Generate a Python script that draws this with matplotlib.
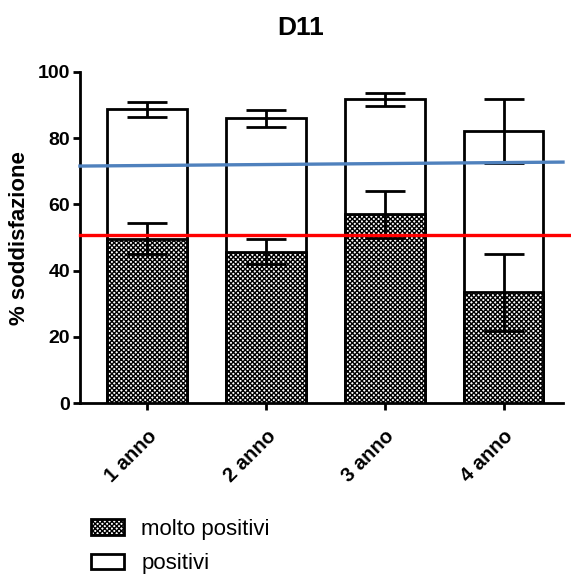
import matplotlib
matplotlib.use('Agg')
import matplotlib.pyplot as plt
import numpy as np

plt.rcParams['font.family'] = ['Liberation Sans', 'DejaVu Sans']
plt.rcParams['hatch.linewidth'] = 1.0

# dati
anni = ['1 anno', '2 anno', '3 anno', '4 anno']
positivi = [88.7, 86.0, 91.8, 82.2]
positivi_err = [2.3, 2.5, 2.0, 9.6]
molto_positivi = [49.7, 45.7, 57.0, 33.5]
molto_positivi_err = [4.7, 3.8, 7.2, 11.6]
linea_blu = [71.6, 72.8]   # valori agli estremi dell'asse
linea_rossa = 50.8

fig = plt.figure(figsize=(5.71, 5.76), dpi=100)
ax = fig.add_axes([0.140, 0.300, 0.846, 0.575])

x = np.arange(len(anni))
w = 0.67
xlim = (-0.565, 3.5)
lw = 2.0

ax.bar(x, positivi, w, color='white', edgecolor='black', linewidth=lw,
       zorder=1, label='positivi')
ax.errorbar(x, positivi, yerr=positivi_err, fmt='none', ecolor='black',
            elinewidth=lw, capsize=14.5, capthick=lw, zorder=2)
ax.bar(x, molto_positivi, w, color='white', edgecolor='black', linewidth=lw,
       hatch='xxxxxxx', zorder=3, label='molto positivi')
ax.errorbar(x, molto_positivi, yerr=molto_positivi_err, fmt='none', ecolor='black',
            elinewidth=lw, capsize=14.5, capthick=lw, zorder=4)

ax.plot(xlim, linea_blu, color='#4f81bd', linewidth=2.4, zorder=5, clip_on=False)
ax.plot([xlim[0], 3.57], [linea_rossa, linea_rossa], color='#ff0000', linewidth=2.4,
        zorder=5, clip_on=False)

ax.set_xlim(xlim)
ax.set_ylim(0, 100)
ax.set_yticks([0, 20, 40, 60, 80, 100])
ax.set_xticks(x)
ax.set_xticklabels(anni, rotation=45, ha='right', rotation_mode='anchor',
                   fontsize=14.5, fontweight='bold')
for t in ax.get_yticklabels():
    t.set_fontsize(14)
    t.set_fontweight('bold')
ax.tick_params(axis='both', direction='out', length=5, width=lw, pad=2)
ax.tick_params(axis='x', pad=12)

for s in ['top', 'right']:
    ax.spines[s].set_visible(False)
for s in ['left', 'bottom']:
    ax.spines[s].set_linewidth(lw)

ax.set_ylabel('% soddisfazione', fontsize=16, fontweight='bold', labelpad=6)
fig.text(0.527, 0.951, 'D11', ha='center', va='center', fontsize=19, fontweight='bold')

h, l = ax.get_legend_handles_labels()
fig.legend(h[::-1], l[::-1], loc='center left', bbox_to_anchor=(0.160, 0.051),
           frameon=False, fontsize=16, handlelength=1.45, handleheight=0.7,
           borderpad=0, borderaxespad=0, labelspacing=0.6, handletextpad=0.8)

fig.savefig('out.png', dpi=100)
